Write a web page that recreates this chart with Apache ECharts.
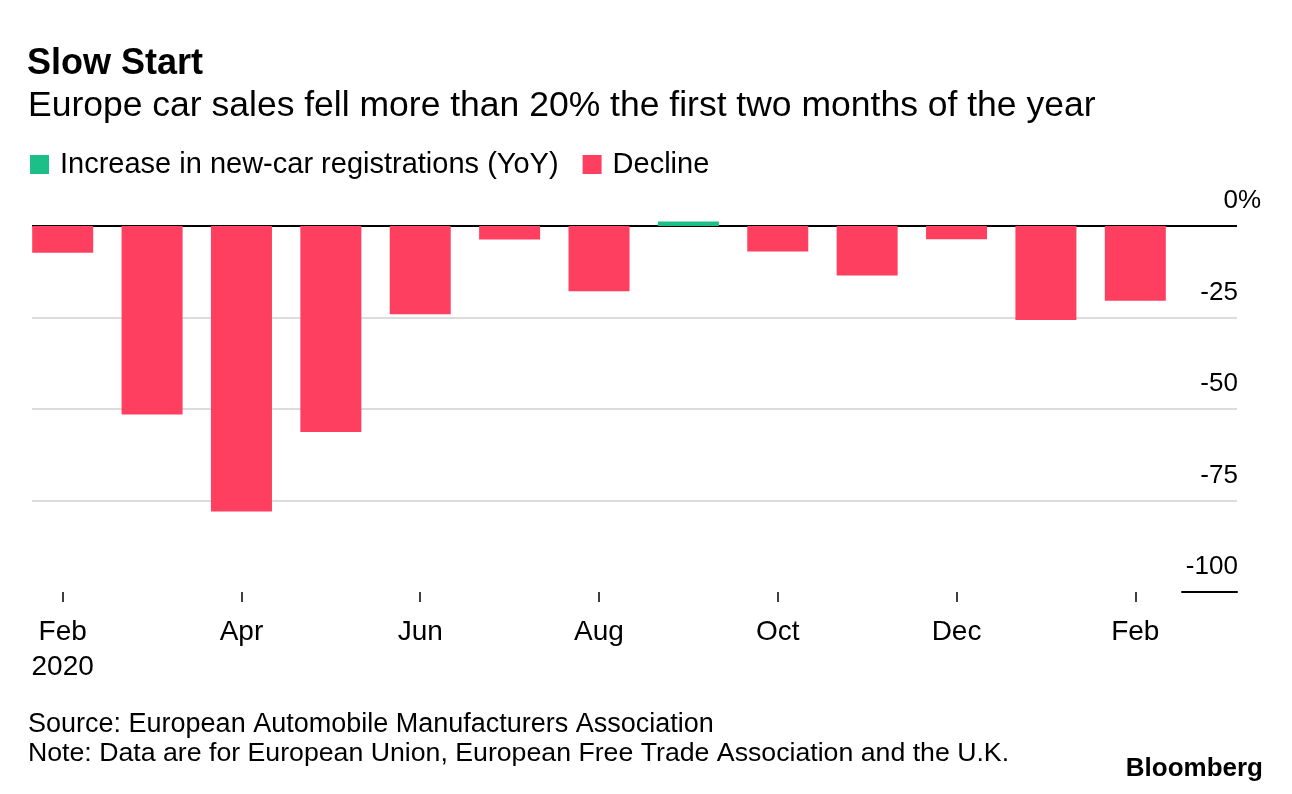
<!DOCTYPE html>
<html>
<head>
<meta charset="utf-8">
<script src="https://cdn.jsdelivr.net/npm/echarts@6/dist/echarts.min.js"></script>
<style>
html,body{margin:0;padding:0;background:#fff;}
#c{width:1292px;height:794px;}
</style>
</head>
<body>
<div id="c"></div>
<script>
const categories = ['Feb\n2020','Mar','Apr','May','Jun','Jul','Aug','Sep','Oct','Nov','Dec','Jan','Feb'];
const changes = [-7.3, -51.5, -78.0, -56.3, -24.1, -3.7, -17.8, 1.2, -7.0, -13.5, -3.6, -25.7, -20.4];
const yTicks = [-100, -75, -50, -25, 0];

const increase = changes.map(v => v >= 0 ? v : null);
const decline = changes.map(v => v < 0 ? v : null);

const FONT = 'Liberation Sans, Arial, sans-serif';
const chart = echarts.init(document.getElementById('c'), null, {renderer: 'canvas'});

const gridTop = 226, gridBottom = 202;
const option = {
  backgroundColor: '#fff',
  animation: false,
  textStyle: {fontFamily: FONT, color: '#000'},
  title: [
    {text: 'Slow Start', left: 27, top: 46, padding: 0,
     textStyle: {fontFamily: FONT, fontWeight: 'bold', fontSize: 36, color: '#000'}},
    {text: 'Europe car sales fell more than 20% the first two months of the year', left: 28, top: 88, padding: 0,
     textStyle: {fontFamily: FONT, fontWeight: 'normal', fontSize: 35.5, color: '#000'}},
    {text: 'Source: European Automobile Manufacturers Association', left: 28, top: 711, padding: 0,
     textStyle: {fontFamily: FONT, fontWeight: 'normal', fontSize: 27, color: '#000'}},
    {text: 'Note: Data are for European Union, European Free Trade Association and the U.K.', left: 28, top: 740, padding: 0,
     textStyle: {fontFamily: FONT, fontWeight: 'normal', fontSize: 26.7, color: '#000'}},
    {text: 'Bloomberg', right: 29, top: 756, padding: 0,
     textStyle: {fontFamily: FONT, fontWeight: 'bold', fontSize: 26, color: '#000'}}
  ],
  legend: {
    left: 30, top: 150, padding: 0,
    itemWidth: 19, itemHeight: 19, itemGap: 24,
    icon: 'rect',
    textStyle: {fontFamily: FONT, fontSize: 29, color: '#000', padding: [0, 0, 0, 6]},
    data: ['Increase in new-car registrations (YoY)', 'Decline']
  },
  grid: [
    {left: 18, right: 112, top: gridTop, bottom: gridBottom},
    {left: 32, right: 55, top: gridTop, bottom: gridBottom},
    {left: 1182, right: 55, top: gridTop, bottom: gridBottom}
  ],
  xAxis: [
    {type: 'category', gridIndex: 0, data: categories, boundaryGap: true, position: 'bottom',
     axisLine: {show: true, onZero: false, lineStyle: {color: 'rgba(0,0,0,0)'}},
     axisTick: {show: true, interval: 1, alignWithLabel: true, length: 10, lineStyle: {color: '#000', width: 1.5}},
     axisLabel: {show: true, interval: 1, fontFamily: FONT, fontSize: 28, color: '#000', margin: 23, lineHeight: 35},
     splitLine: {show: false}},
    {type: 'category', gridIndex: 1, data: categories, show: false, axisLine: {onZero: false}},
    {type: 'category', gridIndex: 2, data: [''], show: true, position: 'bottom',
     axisLine: {show: true, onZero: false, lineStyle: {color: '#000', width: 2}},
     axisTick: {show: false}, axisLabel: {show: false}}
  ],
  yAxis: [
    {type: 'value', gridIndex: 0, min: -100, max: 0, interval: 25, show: false},
    {type: 'value', gridIndex: 1, min: -100, max: 0, interval: 25, position: 'right',
     axisLine: {show: false}, axisTick: {show: false},
     splitLine: {show: true, lineStyle: {color: ['rgba(0,0,0,0)', '#dcdcdc', '#dcdcdc', '#dcdcdc', '#000'], width: 2}},
     axisLabel: {inside: true, margin: -24, verticalAlign: 'bottom', padding: [0, 0, 12, 0],
       fontFamily: FONT, fontSize: 26, color: '#000',
       formatter: v => v === 0 ? '0{p|%}' : v + '{h|%}',
       rich: {p: {fontFamily: FONT, fontSize: 26, color: '#000'},
              h: {fontFamily: FONT, fontSize: 26, color: 'rgba(0,0,0,0)'}}}},
    {type: 'value', gridIndex: 2, min: -100, max: 0, show: false}
  ],
  series: [
    {name: 'Increase in new-car registrations (YoY)', type: 'bar', xAxisIndex: 0, yAxisIndex: 0,
     data: increase, barWidth: 61, barGap: '-100%', clip: false,
     itemStyle: {color: '#1cbf88'}},
    {name: 'Decline', type: 'bar', xAxisIndex: 0, yAxisIndex: 0,
     data: decline, barWidth: 61, barGap: '-100%', clip: false,
     itemStyle: {color: '#ff3f60'}}
  ]
};
chart.setOption(option);
</script>
</body>
</html>
